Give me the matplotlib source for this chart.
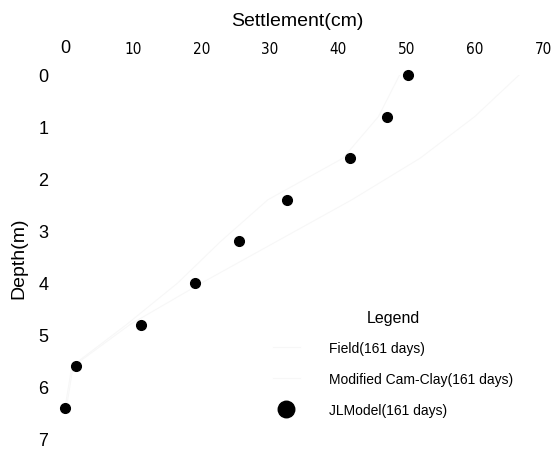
import matplotlib
matplotlib.use('Agg')
import matplotlib.pyplot as plt
from matplotlib import font_manager

plt.rcParams['font.family'] = ['Liberation Sans', 'DejaVu Sans']

# depth (m) and settlement (cm) after 161 days
depth = [0.0, 0.8, 1.6, 2.4, 3.2, 4.0, 4.8, 5.6, 6.4]
jl_settle = [50.3, 47.2, 41.8, 32.5, 25.5, 19.0, 11.2, 1.6, 0.0]
field_settle = [49.0, 45.9, 40.7, 29.7, 22.8, 16.5, 9.0, 1.0, 0.0]
mcc_settle = [66.5, 60.0, 52.0, 42.0, 31.0, 20.0, 9.5, 1.2, 0.2]
x_ticks = [0, 10, 20, 30, 40, 50, 60, 70]
y_ticks = [0, 1, 2, 3, 4, 5, 6, 7]

installed = {f.name for f in font_manager.fontManager.ttflist}
narrow = 'Liberation Sans Narrow' if 'Liberation Sans Narrow' in installed else None

fig = plt.figure(figsize=(5.52, 4.52), dpi=100)
ax = fig.add_axes([65/552, 12/452, 478/552, 364/452])

# the scanned original shows the two curves only as faint traces
ax.plot(field_settle, depth, color='#f7f7f7', lw=0.8, label='Field(161 days)')
ax.plot(mcc_settle, depth, color='#f7f7f7', lw=0.8, label='Modified Cam-Clay(161 days)')
ax.plot(jl_settle, depth, ls='none', marker='o', ms=7, color='black',
        clip_on=False, label='JLModel(161 days)')

ax.set_xlim(0, 70)
ax.set_ylim(7, 0)
ax.xaxis.tick_top()
ax.xaxis.set_label_position('top')
ax.set_xticks(x_ticks)
ax.set_yticks(y_ticks)
ax.set_xticklabels([str(v) for v in x_ticks])
ax.tick_params(axis='both', length=0)
ax.tick_params(axis='x', pad=13.5, labelsize=12)
ax.tick_params(axis='y', pad=12, labelsize=13)
for i, lab in enumerate(ax.get_xticklabels()):
    if i == 0:
        lab.set_fontsize(13)
    elif narrow:
        lab.set_family([narrow, 'Liberation Sans'])
    else:
        lab.set_family('DejaVu Sans')
        lab.set_fontstretch('condensed')
        lab.set_fontsize(11)
for s in ax.spines.values():
    s.set_visible(False)

ax.set_xlabel('Settlement(cm)', fontsize=14)
ax.xaxis.set_label_coords(0.487, 1.0 + 50/364)
ax.set_ylabel('Depth(m)', fontsize=14, labelpad=8)

handles, labels = ax.get_legend_handles_labels()
leg = ax.legend(handles, labels, title='Legend', frameon=False,
                loc='upper left', bbox_to_anchor=(260/552, 154/452),
                bbox_transform=fig.transFigure, fontsize=10,
                title_fontsize=11.5, labelspacing=1.2, handlelength=2,
                handletextpad=2.1, markerscale=1.7)

fig.savefig('out.png', dpi=100)
